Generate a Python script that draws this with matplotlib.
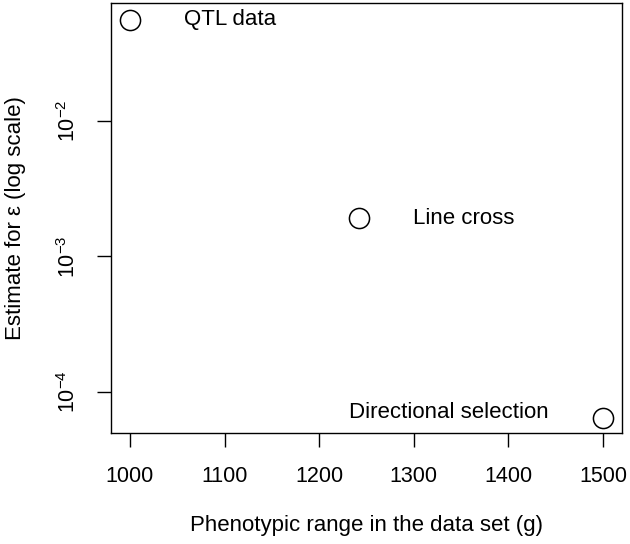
import matplotlib
matplotlib.use("Agg")
import matplotlib.pyplot as plt
from matplotlib.ticker import FixedLocator, NullLocator

plt.rcParams['font.family'] = ['Liberation Sans', 'DejaVu Sans']
plt.rcParams['mathtext.fontset'] = 'custom'
plt.rcParams['mathtext.rm'] = 'Liberation Sans'
plt.rcParams['mathtext.it'] = 'Liberation Sans:italic'

# data
labels = ['QTL data', 'Line cross', 'Directional selection']
prange = [1000, 1242, 1500]          # phenotypic range (g)
eps = [0.056, 0.00192, 0.0000637]    # estimate for epsilon
side = ['right', 'right', 'left']    # where the label sits

fig = plt.figure(figsize=(6.3, 5.44), dpi=100)
ax = fig.add_axes([0.1762, 0.204, 0.8111, 0.7905])

ax.plot(prange, eps, 'o', mfc='none', mec='black', ms=14.5, mew=1.1)
ax.set_yscale('log')
ax.set_xlim(980, 1520)
ax.set_ylim(10**-4.305, 10**-1.128)

for lab, x, y, s in zip(labels, prange, eps, side):
    dx = 39 if s == 'right' else -39
    ha = 'left' if s == 'right' else 'right'
    dy = 4 if s == 'left' else 0
    ax.annotate(lab, (x, y), xytext=(dx, dy), textcoords='offset points',
                ha=ha, va='center', fontsize=16)

ax.xaxis.set_major_locator(FixedLocator([1000, 1100, 1200, 1300, 1400, 1500]))
ax.yaxis.set_major_locator(FixedLocator([1e-4, 1e-3, 1e-2]))
ax.yaxis.set_minor_locator(NullLocator())
ax.set_yticklabels([r'$10^{-4}$', r'$10^{-3}$', r'$10^{-2}$'], rotation=90, va='center')
ax.tick_params(axis='both', length=10, width=1, labelsize=15.5)
ax.tick_params(axis='x', pad=14)
ax.tick_params(axis='y', pad=12)
for sp in ax.spines.values():
    sp.set_linewidth(1)

ax.set_xlabel('Phenotypic range in the data set (g)', fontsize=16, labelpad=20)
ax.set_ylabel('Estimate for \u03b5 (log scale)', fontsize=16, labelpad=23)

fig.savefig('out.png', dpi=100)
